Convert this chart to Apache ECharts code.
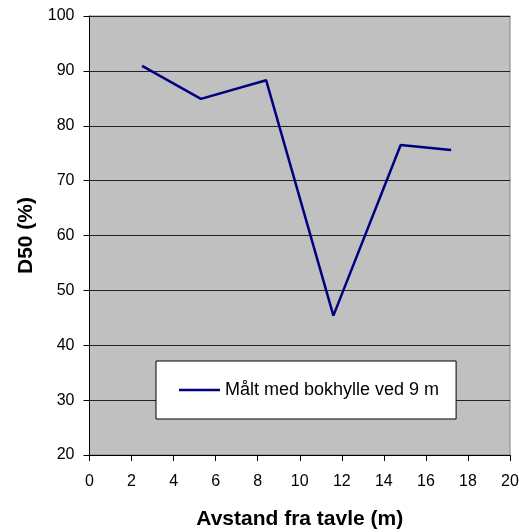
<!DOCTYPE html>
<html>
<head>
<meta charset="utf-8">
<script src="https://cdn.jsdelivr.net/npm/echarts@6/dist/echarts.min.js"></script>
<style>
  html, body { margin: 0; padding: 0; background: #fff; }
  #chart { width: 519px; height: 532px; }
</style>
</head>
<body>
<div id="chart"></div>
<script>
// avstand (m) og D50 (%)
const avstand = [2.5, 5.3, 8.4, 11.6, 14.8, 17.2]
const d50 = [90.9, 84.9, 88.3, 45.4, 76.5, 75.6]
const seriesName = 'Målt med bokhylle ved 9 m'

const font = '"Liberation Sans", Arial, sans-serif'

const chart = echarts.init(document.getElementById('chart'))

const option = {
  animation: false,
  backgroundColor: '#ffffff',
  grid: {
    left: 89.5,
    right: 9,
    top: 16,
    bottom: 77,
    containLabel: false,
    outerBoundsMode: 'none',
    show: true,
    backgroundColor: '#c0c0c0',
    borderColor: '#808080',
    borderWidth: 1
  },
  legend: {
    left: 156,
    top: 361,
    orient: 'horizontal',
    backgroundColor: '#ffffff',
    borderColor: '#000000',
    borderWidth: 1,
    borderRadius: 0,
    padding: [20, 17, 20, 23],
    icon: 'rect',
    itemWidth: 41,
    itemHeight: 2.5,
    textStyle: { fontFamily: font, fontSize: 18, color: '#000' },
    data: [seriesName]
  },
  xAxis: {
    type: 'value',
    min: 0,
    max: 20,
    interval: 2,
    name: 'Avstand fra tavle (m)',
    nameLocation: 'middle',
    nameGap: 54,
    nameTextStyle: { fontFamily: font, fontSize: 21, fontWeight: 'bold', color: '#000' },
    axisLine: { show: true, lineStyle: { color: '#000', width: 1 } },
    axisTick: { show: true, inside: false, length: 6, lineStyle: { color: '#000' } },
    axisLabel: { fontFamily: font, fontSize: 16, color: '#000', margin: 19 },
    splitLine: { show: false }
  },
  yAxis: {
    type: 'value',
    min: 20,
    max: 100,
    interval: 10,
    name: 'D50 (%)',
    nameLocation: 'middle',
    nameGap: 53,
    nameTextStyle: { fontFamily: font, fontSize: 21, fontWeight: 'bold', color: '#000' },
    axisLine: { show: true, lineStyle: { color: '#000', width: 1 } },
    axisTick: { show: true, inside: false, length: 6, lineStyle: { color: '#000' } },
    axisLabel: { fontFamily: font, fontSize: 16, color: '#000', margin: 15 },
    splitLine: { show: true, lineStyle: { color: '#222', width: 1 } }
  },
  series: [
    {
      name: seriesName,
      type: 'line',
      data: avstand.map((x, i) => [x, d50[i]]),
      symbol: 'none',
      lineStyle: { color: '#000080', width: 2.5 },
      itemStyle: { color: '#000080' }
    }
  ]
}

chart.setOption(option)
</script>
</body>
</html>
